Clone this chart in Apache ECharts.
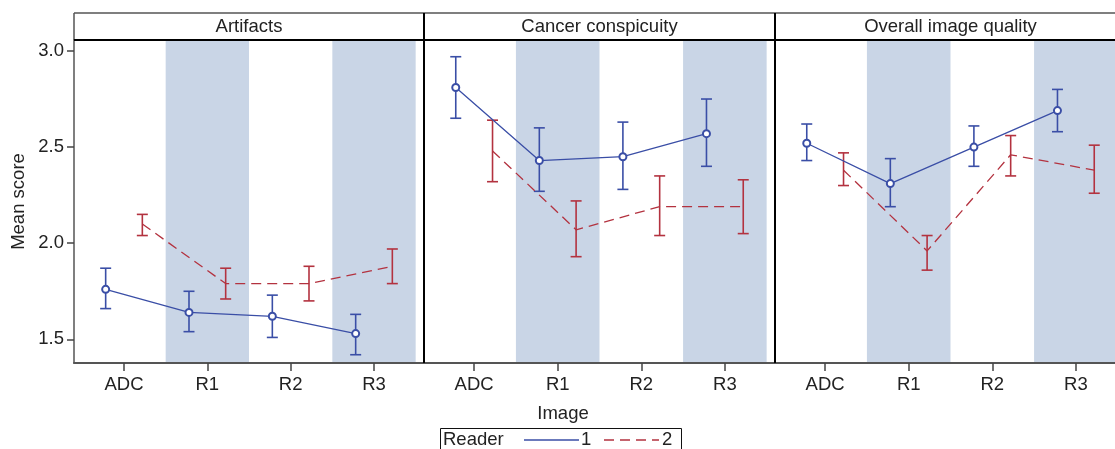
<!DOCTYPE html>
<html>
<head>
<meta charset="utf-8">
<script src="https://cdn.jsdelivr.net/npm/echarts@6/dist/echarts.min.js"></script>
<style>
  html, body { margin: 0; padding: 0; background: #fff; }
  #chart { width: 1115px; height: 449px; }
</style>
</head>
<body>
<div id="chart"></div>
<script>
var categories = ['ADC', 'R1', 'R2', 'R3'];
var panels = ['Artifacts', 'Cancer conspicuity', 'Overall image quality'];
var yTicks = [1.5, 2.0, 2.5, 3.0];
var shaded = [1, 3];   // R1 and R3 get a band

// reader 1 (blue) -- mean, lower, upper per panel
var r1Mean = [[1.76, 1.64, 1.62, 1.53], [2.81, 2.43, 2.45, 2.57], [2.52, 2.31, 2.50, 2.69]];
var r1Lo   = [[1.66, 1.54, 1.51, 1.42], [2.65, 2.27, 2.28, 2.40], [2.43, 2.19, 2.40, 2.58]];
var r1Hi   = [[1.87, 1.75, 1.73, 1.63], [2.97, 2.60, 2.63, 2.75], [2.62, 2.44, 2.61, 2.80]];
// reader 2 (red)
var r2Mean = [[2.10, 1.79, 1.79, 1.88], [2.48, 2.07, 2.19, 2.19], [2.38, 1.96, 2.46, 2.38]];
var r2Lo   = [[2.04, 1.71, 1.70, 1.79], [2.32, 1.93, 2.04, 2.05], [2.30, 1.86, 2.35, 2.26]];
var r2Hi   = [[2.15, 1.87, 1.88, 1.97], [2.64, 2.22, 2.35, 2.33], [2.47, 2.04, 2.56, 2.51]];

var BLUE = '#3a4ea6';
var RED = '#b3323f';
var BAND = '#c9d5e6';
var FONT = 'Liberation Sans';
var FS = 18.5;
var dodge = 0.22;

var chart = echarts.init(document.getElementById('chart'));

var grids = [], xAxes = [], yAxes = [], series = [];
var gridLeft = [74, 424, 775];
var gridWidth = [350, 351, 351];

function errRender(color) {
    return function (params, api) {
        var x = api.value(0);
        var lo = api.coord([x, api.value(1)]);
        var hi = api.coord([x, api.value(2)]);
        var w = 5.5;
        var st = { stroke: color, lineWidth: 1.6 };
        return {
            type: 'group',
            children: [
                { type: 'line', shape: { x1: lo[0], y1: lo[1], x2: hi[0], y2: hi[1] }, style: st },
                { type: 'line', shape: { x1: lo[0] - w, y1: lo[1], x2: lo[0] + w, y2: lo[1] }, style: st },
                { type: 'line', shape: { x1: hi[0] - w, y1: hi[1], x2: hi[0] + w, y2: hi[1] }, style: st }
            ]
        };
    };
}

for (var g = 0; g < 3; g++) {
    grids.push({ left: gridLeft[g], width: gridWidth[g], top: 40, height: 323, outerBoundsMode: 'none', containLabel: false });
    xAxes.push({
        type: 'value', gridIndex: g, min: -0.6, max: 3.6,
        splitLine: { show: false },
        axisLine: { onZero: false, lineStyle: { color: '#555', width: 2 } },
        axisTick: { customValues: [0, 1, 2, 3], length: 8, lineStyle: { color: '#444', width: 1.5 } },
        axisLabel: {
            customValues: [0, 1, 2, 3], margin: 12,
            fontFamily: FONT, fontSize: FS, color: '#222',
            formatter: function (v) { return categories[Math.round(v)]; }
        }
    });
    yAxes.push({
        type: 'value', gridIndex: g, min: 1.377, max: 3.057,
        show: g === 0,
        splitLine: { show: false },
        name: g === 0 ? 'Mean score' : '',
        nameLocation: 'middle', nameGap: 46,
        nameTextStyle: { fontFamily: FONT, fontSize: FS, color: '#222' },
        axisLine: { show: true, onZero: false, lineStyle: { color: '#555', width: 1.5 } },
        axisTick: { customValues: yTicks, length: 7, lineStyle: { color: '#444', width: 1.5 } },
        axisLabel: {
            customValues: yTicks, margin: 10,
            fontFamily: FONT, fontSize: FS, color: '#222',
            formatter: function (v) { return v.toFixed(1); }
        }
    });

    // background bands
    series.push({
        type: 'custom', xAxisIndex: g, yAxisIndex: g, silent: true, z: 0,
        data: shaded.map(function (i) { return [i]; }),
        renderItem: function (params, api) {
            var cs = params.coordSys;
            var a = api.coord([api.value(0) - 0.5, 2])[0];
            var b = api.coord([api.value(0) + 0.5, 2])[0];
            return { type: 'rect', shape: { x: a, y: cs.y, width: b - a, height: cs.height }, style: { fill: BAND } };
        }
    });

    series.push({
        type: 'custom', xAxisIndex: g, yAxisIndex: g, silent: true, z: 2,
        data: r1Mean[g].map(function (v, i) { return [i - dodge, r1Lo[g][i], r1Hi[g][i]]; }),
        renderItem: errRender(BLUE)
    });
    series.push({
        type: 'custom', xAxisIndex: g, yAxisIndex: g, silent: true, z: 2,
        data: r2Mean[g].map(function (v, i) { return [i + dodge, r2Lo[g][i], r2Hi[g][i]]; }),
        renderItem: errRender(RED)
    });
    series.push({
        name: '1', type: 'line', xAxisIndex: g, yAxisIndex: g, z: 3,
        data: r1Mean[g].map(function (v, i) { return [i - dodge, v]; }),
        symbol: 'emptyCircle', symbolSize: 7,
        itemStyle: { color: BLUE, borderWidth: 1.2 },
        lineStyle: { color: BLUE, width: 1.3 }
    });
    series.push({
        name: '2', type: 'line', xAxisIndex: g, yAxisIndex: g, z: 3,
        data: r2Mean[g].map(function (v, i) { return [i + dodge, v]; }),
        symbol: 'none',
        lineStyle: { color: RED, width: 1.3, type: [10, 6] }
    });
}

var F = FS + 'px "Liberation Sans"';
var frame = [
    { type: 'line', shape: { x1: 74, y1: 13, x2: 1115, y2: 13 }, style: { stroke: '#555', lineWidth: 1.5 } },
    { type: 'line', shape: { x1: 74, y1: 13, x2: 74, y2: 40 }, style: { stroke: '#555', lineWidth: 1.5 } },
    { type: 'line', shape: { x1: 74, y1: 40, x2: 1115, y2: 40 }, style: { stroke: '#000', lineWidth: 2 } },
    { type: 'line', shape: { x1: 424, y1: 13, x2: 424, y2: 363 }, style: { stroke: '#000', lineWidth: 2 } },
    { type: 'line', shape: { x1: 775, y1: 13, x2: 775, y2: 363 }, style: { stroke: '#000', lineWidth: 2 } },
    { type: 'text', x: 563, y: 414, style: { text: 'Image', font: F, fill: '#222', align: 'center', verticalAlign: 'middle' } },
    // legend
    { type: 'rect', shape: { x: 440.5, y: 428.5, width: 241, height: 30 }, style: { fill: 'none', stroke: '#111', lineWidth: 1 } },
    { type: 'text', x: 443, y: 440, style: { text: 'Reader', font: F, fill: '#222', verticalAlign: 'middle' } },
    { type: 'line', shape: { x1: 524, y1: 440, x2: 579, y2: 440 }, style: { stroke: BLUE, lineWidth: 1.3 } },
    { type: 'text', x: 581, y: 440, style: { text: '1', font: F, fill: '#222', verticalAlign: 'middle' } },
    { type: 'line', shape: { x1: 604, y1: 440, x2: 659, y2: 440 }, style: { stroke: RED, lineWidth: 1.3, lineDash: [10, 6] } },
    { type: 'text', x: 662, y: 440, style: { text: '2', font: F, fill: '#222', verticalAlign: 'middle' } }
];
panels.forEach(function (p, g) {
    frame.push({
        type: 'text', x: gridLeft[g] + gridWidth[g] / 2, y: 27,
        style: { text: p, font: F, fill: '#222', align: 'center', verticalAlign: 'middle' }
    });
});

option = {
    backgroundColor: '#fff',
    animation: false,
    grid: grids,
    xAxis: xAxes,
    yAxis: yAxes,
    series: series,
    graphic: { elements: frame.map(function (e) { e.z = 10; e.silent = true; return e; }) }
};

chart.setOption(option);
</script>
</body>
</html>
